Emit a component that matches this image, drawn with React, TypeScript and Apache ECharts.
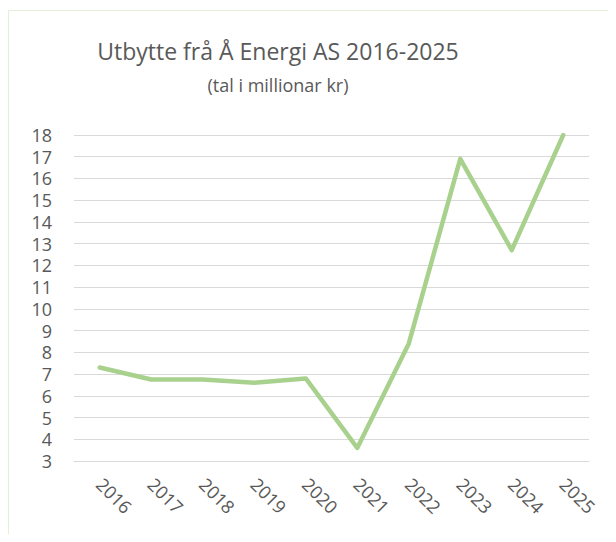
import React, { useEffect, useRef } from "react";
import * as echarts from "echarts";

const years = ["2016", "2017", "2018", "2019", "2020", "2021", "2022", "2023", "2024", "2025"];
const dividend = [7.3, 6.75, 6.75, 6.6, 6.8, 3.6, 8.4, 16.9, 12.7, 18];
const titleText = "Utbytte frå Å Energi AS 2016-2025";
const subtitleText = "(tal i millionar kr)";

export default function App() {
  const ref = useRef<HTMLDivElement>(null);
  useEffect(() => {
    const chart = echarts.init(ref.current!, null, { renderer: "svg" });
    const font = "'Open Sans', 'Noto Sans', sans-serif";
    chart.setOption({
      animation: false,
      backgroundColor: "#ffffff",
      graphic: [
        {
          type: "rect",
          shape: { x: 0.5, y: 2.5, width: 700, height: 600 },
          style: { fill: "none", stroke: "#e2efd9", lineWidth: 1 },
          silent: true,
        },
      ],
      title: {
        text: titleText,
        subtext: subtitleText,
        left: 265,
        textAlign: "center",
        top: 26,
        itemGap: 14,
        textStyle: { fontFamily: font, fontSize: 23, fontWeight: "normal", color: "#595959" },
        subtextStyle: { fontFamily: font, fontSize: 18, color: "#595959" },
      },
      grid: { left: 66, right: 19, top: 127, bottom: 73, containLabel: false },
      xAxis: {
        type: "category",
        data: years,
        boundaryGap: true,
        axisLine: { show: true, lineStyle: { color: "#d9d9d9", width: 1 } },
        axisTick: { show: false },
        axisLabel: {
          rotate: -45,
          margin: 20,
          fontFamily: font,
          fontSize: 18,
          color: "#595959",
          align: "left",
          verticalAlign: "middle",
        },
      },
      yAxis: {
        type: "value",
        min: 3,
        max: 18,
        interval: 1,
        axisLine: { show: false },
        axisTick: { show: false },
        axisLabel: { fontFamily: font, fontSize: 18, color: "#595959", margin: 22 },
        splitLine: { lineStyle: { color: "#d9d9d9", width: 1 } },
      },
      series: [
        {
          type: "line",
          data: dividend,
          symbol: "none",
          lineStyle: { color: "#a9d18e", width: 4.5, cap: "round", join: "round" },
        },
      ],
    });
    return () => chart.dispose();
  }, []);
  return <div ref={ref} style={{ width: 600, height: 526 }} />;
}
